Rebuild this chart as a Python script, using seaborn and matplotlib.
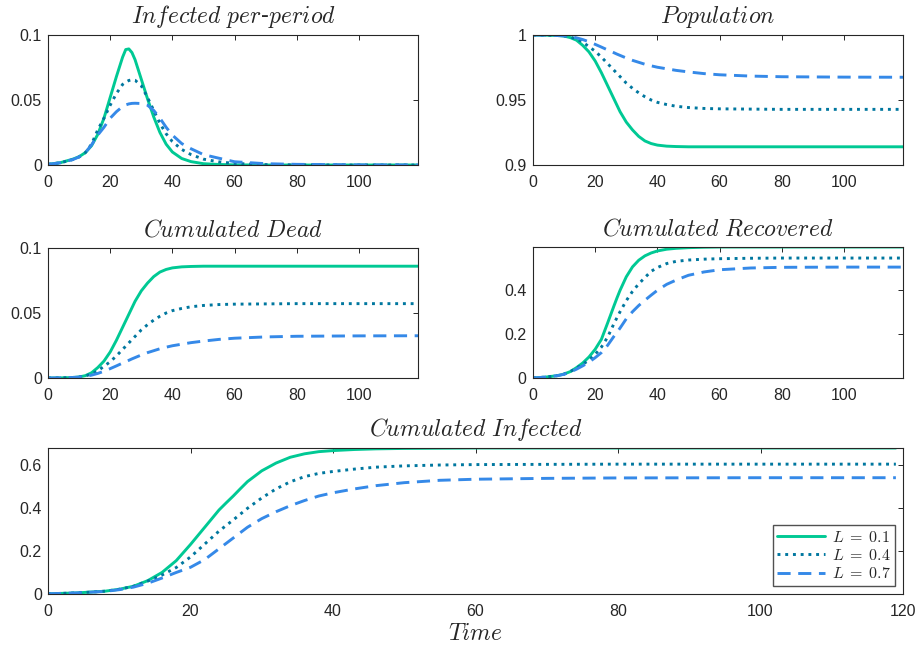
import numpy as np
import pandas as pd
import matplotlib
matplotlib.use("Agg")
import matplotlib.pyplot as plt
from matplotlib.ticker import FuncFormatter
import seaborn as sns

# ---------------- data ----------------
time = [0, 4, 8, 10, 12, 14, 16, 18, 20, 22, 24, 25, 26, 27, 28, 30, 32, 34, 36, 38,
        40, 43, 46, 50, 55, 60, 70, 80, 100, 119]
levels = ["0.1", "0.4", "0.7"]

inf_period_01 = [0.0005, 0.0018, 0.0045, 0.0064, 0.0095, 0.0148, 0.0235, 0.036, 0.052, 0.068,
                 0.083, 0.0888, 0.0893, 0.0865, 0.081, 0.066, 0.051, 0.037, 0.025, 0.016,
                 0.010, 0.005, 0.0026, 0.001, 0.0004, 0.0001, 0.0, 0.0, 0.0, 0.0]
inf_period_04 = [0.0005, 0.0017, 0.0042, 0.0062, 0.0095, 0.016, 0.027, 0.036, 0.046, 0.055,
                 0.062, 0.0638, 0.065, 0.0656, 0.0652, 0.061, 0.052, 0.042, 0.032, 0.024,
                 0.018, 0.012, 0.008, 0.0045, 0.0024, 0.0012, 0.0003, 0.0001, 0.0, 0.0]
inf_period_07 = [0.0005, 0.0017, 0.0042, 0.0062, 0.0095, 0.0154, 0.023, 0.029, 0.036, 0.041,
                 0.045, 0.0462, 0.047, 0.0474, 0.0475, 0.0473, 0.046, 0.042, 0.036, 0.029,
                 0.023, 0.0165, 0.0125, 0.008, 0.0052, 0.0025, 0.001, 0.0005, 0.0001, 0.0]

population_01 = [1.0, 0.9999, 0.9996, 0.9992, 0.998, 0.996, 0.992, 0.987, 0.980, 0.971,
                 0.961, 0.956, 0.951, 0.946, 0.941, 0.933, 0.927, 0.922, 0.9185, 0.9165,
                 0.9153, 0.9145, 0.9142, 0.914, 0.914, 0.914, 0.914, 0.914, 0.914, 0.914]
population_04 = [1.0, 0.9999, 0.9996, 0.9992, 0.9984, 0.997, 0.9945, 0.991, 0.9875, 0.983,
                 0.978, 0.9755, 0.973, 0.9705, 0.968, 0.963, 0.959, 0.9555, 0.9525, 0.950,
                 0.9482, 0.9465, 0.9452, 0.9442, 0.9435, 0.9432, 0.943, 0.9428, 0.9428, 0.9428]
population_07 = [1.0, 0.9999, 0.9996, 0.9993, 0.9988, 0.9978, 0.9965, 0.9948, 0.9928, 0.9907,
                 0.9885, 0.9875, 0.9864, 0.9853, 0.9843, 0.9823, 0.9805, 0.979, 0.9775, 0.9763,
                 0.9752, 0.974, 0.9728, 0.9716, 0.9703, 0.9694, 0.9684, 0.9679, 0.9676, 0.9675]

dead_01 = [0.0, 0.0001, 0.0004, 0.0008, 0.0018, 0.004, 0.008, 0.013, 0.020, 0.029,
           0.039, 0.044, 0.049, 0.054, 0.059, 0.067, 0.073, 0.078, 0.0815, 0.0835,
           0.0847, 0.0855, 0.0858, 0.086, 0.086, 0.086, 0.086, 0.086, 0.086, 0.086]
dead_04 = [0.0, 0.0001, 0.0004, 0.0008, 0.0016, 0.003, 0.0055, 0.009, 0.0125, 0.017,
           0.022, 0.0245, 0.027, 0.0295, 0.032, 0.037, 0.041, 0.0445, 0.0475, 0.050,
           0.0518, 0.0535, 0.0548, 0.0558, 0.0565, 0.0568, 0.057, 0.0572, 0.0572, 0.0572]
dead_07 = [0.0, 0.0001, 0.0004, 0.0007, 0.0012, 0.0022, 0.0035, 0.0052, 0.0072, 0.0093,
           0.0115, 0.0126, 0.0136, 0.0147, 0.0157, 0.0177, 0.0195, 0.021, 0.0225, 0.0237,
           0.0248, 0.026, 0.0272, 0.0284, 0.0297, 0.0306, 0.0316, 0.0321, 0.0324, 0.0325]

recovered_01 = [0.0, 0.004, 0.011, 0.018, 0.029, 0.047, 0.068, 0.095, 0.13, 0.175,
                0.249, 0.287, 0.325, 0.362, 0.397, 0.458, 0.503, 0.533, 0.553, 0.566,
                0.575, 0.583, 0.587, 0.590, 0.592, 0.593, 0.593, 0.593, 0.593, 0.593]
recovered_04 = [0.0, 0.004, 0.011, 0.018, 0.029, 0.045, 0.062, 0.081, 0.107, 0.14,
                0.185, 0.215, 0.245, 0.273, 0.30, 0.35, 0.392, 0.426, 0.455, 0.483,
                0.50, 0.518, 0.528, 0.534, 0.538, 0.540, 0.542, 0.543, 0.543, 0.543]
recovered_07 = [0.0, 0.004, 0.011, 0.017, 0.027, 0.04, 0.055, 0.072, 0.092, 0.115,
                0.148, 0.168, 0.188, 0.207, 0.226, 0.268, 0.30, 0.328, 0.352, 0.375,
                0.397, 0.424, 0.443, 0.465, 0.48, 0.49, 0.498, 0.501, 0.502, 0.502]

cum_inf_01 = [0.001, 0.005, 0.013, 0.022, 0.036, 0.062, 0.10, 0.155, 0.23, 0.31,
              0.39, 0.423, 0.455, 0.489, 0.522, 0.572, 0.608, 0.635, 0.651, 0.661,
              0.666, 0.671, 0.674, 0.676, 0.677, 0.678, 0.678, 0.678, 0.678, 0.678]
cum_inf_04 = [0.001, 0.005, 0.013, 0.022, 0.036, 0.06, 0.088, 0.123, 0.172, 0.232,
              0.292, 0.318, 0.344, 0.371, 0.398, 0.446, 0.488, 0.521, 0.545, 0.560,
              0.569, 0.580, 0.589, 0.595, 0.599, 0.601, 0.602, 0.603, 0.603, 0.603]
cum_inf_07 = [0.001, 0.005, 0.012, 0.02, 0.032, 0.05, 0.074, 0.10, 0.124, 0.16,
              0.21, 0.235, 0.26, 0.285, 0.31, 0.35, 0.382, 0.41, 0.434, 0.455,
              0.47, 0.488, 0.503, 0.517, 0.528, 0.533, 0.537, 0.539, 0.54, 0.54]

titles = ["Infected per-period", "Population", "Cumulated Dead",
          "Cumulated Recovered", "Cumulated Infected"]
legend_labels = [r"$L\;=\;0.1$", r"$L\;=\;0.4$", r"$L\;=\;0.7$"]

# ---------------- style ----------------
sns.set_theme(style="white")
plt.rcParams["font.family"] = ["Liberation Sans", "DejaVu Sans"]
plt.rcParams["mathtext.fontset"] = "cm"
plt.rcParams["axes.edgecolor"] = "#262626"
plt.rcParams["axes.linewidth"] = 0.8

palette = {"0.1": "#00c994", "0.4": "#00779f", "0.7": "#3589e8"}
dashes = {"0.1": "", "0.4": (1, 1.65), "0.7": (4.5, 2.6)}


def long_df(series):
    frames = []
    for lev, vals in zip(levels, series):
        frames.append(pd.DataFrame({"t": time, "v": vals, "L": lev}))
    return pd.concat(frames, ignore_index=True)


def title_text(name):
    if "-" in name:
        a, b = name.split("-")
        return r"$\mathit{" + a.replace(" ", r"\ ") + r"}$-$\mathit{" + b + r"}$"
    return r"$\mathit{" + name.replace(" ", r"\ ") + r"}$"


fig = plt.figure(figsize=(9.19, 6.45), dpi=100)
W, H = 919, 645


def add_ax(x0, y0, x1, y1):
    return fig.add_axes([x0 / W, 1 - y1 / H, (x1 - x0) / W, (y1 - y0) / H])


axes = [add_ax(48, 35, 418, 165), add_ax(533, 35, 903, 165),
        add_ax(48, 248, 418, 378), add_ax(533, 247, 903, 378),
        add_ax(48, 448, 903, 594)]

datasets = [(inf_period_01, inf_period_04, inf_period_07),
            (population_01, population_04, population_07),
            (dead_01, dead_04, dead_07),
            (recovered_01, recovered_04, recovered_07),
            (cum_inf_01, cum_inf_04, cum_inf_07)]

ylims = [(0, 0.1), (0.9, 1.0), (0, 0.1), (0, max(recovered_01)), (0, max(cum_inf_01))]
yticks = [[0, 0.05, 0.1], [0.9, 0.95, 1.0], [0, 0.05, 0.1], [0, 0.2, 0.4], [0, 0.2, 0.4, 0.6]]
fmt = FuncFormatter(lambda v, p: "%g" % round(v, 6))

for i, (ax, data) in enumerate(zip(axes, datasets)):
    df = long_df(data)
    sns.lineplot(data=df, x="t", y="v", hue="L", style="L", palette=palette,
                 dashes=dashes, hue_order=levels, style_order=levels,
                 linewidth=2.1, ax=ax, legend=False, estimator=None, sort=False)
    ax.set_ylim(*ylims[i])
    ax.set_yticks(yticks[i])
    if i < 4:
        ax.set_xlim(0, 119)
        ax.set_xticks([0, 20, 40, 60, 80, 100])
    else:
        ax.set_xlim(0, 120)
        ax.set_xticks([0, 20, 40, 60, 80, 100, 120])
    ax.xaxis.set_major_formatter(fmt)
    ax.yaxis.set_major_formatter(fmt)
    ax.set_xlabel("")
    ax.set_ylabel("")
    ax.tick_params(direction="in", top=True, right=True, length=3.5, width=0.7,
                   labelsize=11.5, colors="#262626")
    ax.tick_params(axis="x", pad=7)
    ax.tick_params(axis="y", pad=4.5)
    for s in ax.spines.values():
        s.set_visible(True)
        s.set_color("#262626")
        s.set_linewidth(0.8)
    ax.set_title(title_text(titles[i]), fontsize=17, family="DejaVu Serif", pad=8.5)

ax = axes[4]
ax.set_xlabel(r"$\mathit{Time}$", fontsize=17, labelpad=3)
handles = ax.get_lines()[:3]
ax.legend(handles, legend_labels, loc="lower right",
          fontsize=11.5, handlelength=3.0, frameon=True, fancybox=False,
          edgecolor="#262626", borderpad=0.3, labelspacing=0.2,
          handletextpad=0.4, borderaxespad=0.0, bbox_to_anchor=(0.991, 0.055))

fig.savefig("out.png", dpi=100, facecolor="white")
